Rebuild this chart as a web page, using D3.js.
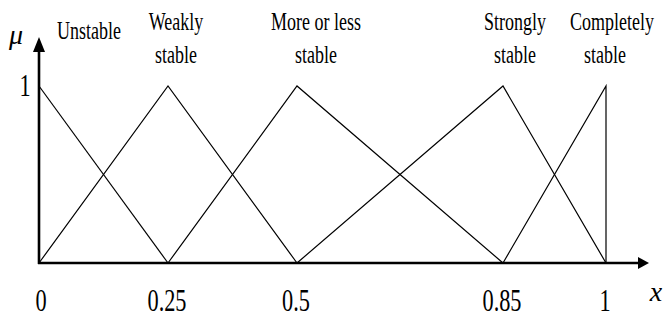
<!DOCTYPE html>
<html><head><meta charset="utf-8">
<script src="https://cdn.jsdelivr.net/npm/d3@7"></script>
<style>html,body{margin:0;padding:0;background:#fff;}svg{display:block;}</style>
</head><body>
<script>
// Data
const categories = ["Unstable", "Weakly stable", "More or less stable", "Strongly stable", "Completely stable"];
const unstableX = [0, 0.25], unstableY = [1, 0];
const weaklyX = [0, 0.25, 0.5], weaklyY = [0, 1, 0];
const moreLessX = [0.25, 0.5, 0.85], moreLessY = [0, 1, 0];
const stronglyX = [0.5, 0.85, 1], stronglyY = [0, 1, 0];
const completelyX = [0.85, 1, 1], completelyY = [0, 1, 0];
const xTicks = [0, 0.25, 0.5, 0.85, 1];
const xTickLabels = ["0", "0.25", "0.5", "0.85", "1"];
const yTicks = [1];
const yTickLabels = ["1"];
// category label lines and their anchor x value (data) for placement
const labelLines = [["Unstable"], ["Weakly", "stable"], ["More or less", "stable"], ["Strongly", "stable"], ["Completely", "stable"]];

const W = 664, H = 320;
const svg = d3.select("body").append("svg").attr("width", W).attr("height", H);
const x = d3.scaleLinear().domain(xTicks).range([39, 168, 297, 503, 606]);
const y = d3.scaleLinear().domain([0, 1]).range([263, 86]);
const font = "'Liberation Serif','Times New Roman',serif";
const SX = 0.72;

function txt(px, py, s, size, opts = {}) {
  const g = svg.append("g").attr("transform", `translate(${px},${py}) scale(${opts.sx || SX},1)`);
  g.append("text").attr("text-anchor", opts.anchor || "middle")
    .attr("font-family", font).attr("font-size", size)
    .attr("font-style", opts.italic ? "italic" : "normal")
    .attr("fill", "#000").text(s);
}

// series lines
const series = [[unstableX, unstableY], [weaklyX, weaklyY], [moreLessX, moreLessY], [stronglyX, stronglyY], [completelyX, completelyY]];
const line = d3.line().x(d => x(d[0])).y(d => y(d[1]));
series.forEach(([xs, ys]) => {
  svg.append("path").attr("d", line(xs.map((v, i) => [v, ys[i]])))
    .attr("fill", "none").attr("stroke", "#000").attr("stroke-width", 1.2);
});

// axes
const x0 = x(0), y0 = y(0);
svg.append("line").attr("x1", x0 - 1).attr("x2", 641).attr("y1", y0).attr("y2", y0).attr("stroke", "#000").attr("stroke-width", 2.6);
svg.append("path").attr("d", `M649,${y0} L638,${y0 - 6} L638,${y0 + 6} Z`).attr("fill", "#000");
svg.append("line").attr("x1", x0).attr("x2", x0).attr("y1", y0 + 1).attr("y2", 48).attr("stroke", "#000").attr("stroke-width", 2.6);
svg.append("path").attr("d", `M${x0},37 L${x0 - 6},52 L${x0 + 6},52 Z`).attr("fill", "#000");

// tick labels
xTicks.forEach((t, i) => txt(x(t) + (i === 0 ? 2 : -1), 311, xTickLabels[i], 31));
yTicks.forEach((t, i) => txt(25, y(t) + 10, yTickLabels[i], 31));

// axis titles
txt(16, 44, "μ", 28, { italic: true, sx: 1 });
txt(656, 301, "x", 28, { italic: true, sx: 1 });

// category labels
const labelPos = [[89, 39], [176, 30], [316, 30], [515, 30], [612, 30]];
labelLines.forEach((lines, i) => {
  lines.forEach((s, j) => {
    let px = labelPos[i][0];
    if (i === 4 && j === 1) px = 605;
    txt(px, labelPos[i][1] + j * 33, s, 25);
  });
});
</script>
</body></html>
